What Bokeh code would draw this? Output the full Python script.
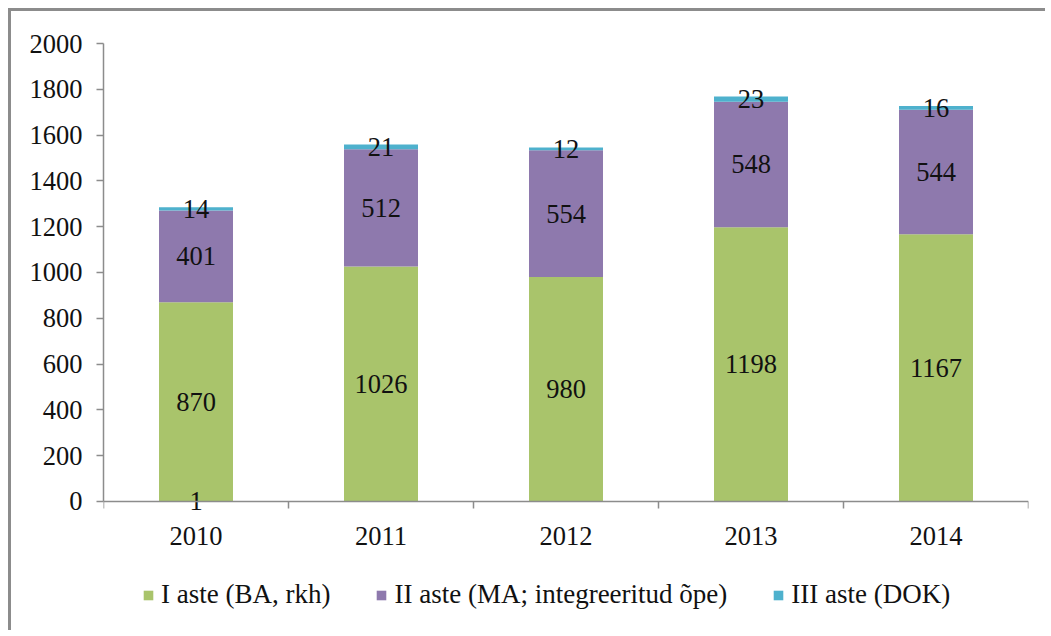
from bokeh.plotting import figure
from bokeh.models import ColumnDataSource, FixedTicker, Range1d, Legend, LegendItem
from bokeh.core.properties import value
from bokeh.embed import file_html
from bokeh.resources import INLINE

years = ["2010", "2011", "2012", "2013", "2014"]
first = [870, 1026, 980, 1198, 1167]
second = [401, 512, 554, 548, 544]
third = [14, 21, 12, 23, 16]
extra = [1, 0, 0, 0, 0]
y_ticks = [0, 200, 400, 600, 800, 1000, 1200, 1400, 1600, 1800, 2000]
series_names = ["I aste (BA, rkh)", "II aste (MA; integreeritud õpe)", "III aste (DOK)"]
colors = ["#A9C46B", "#8E79AD", "#4EB1CD"]

FONT = "Liberation Serif"
FS = "26.5px"
FS_LEG = "27px"

xs = [i + 0.5 for i in range(len(years))]
b1 = [0] * len(years)
t1 = first[:]
t2 = [a + b for a, b in zip(t1, second)]
t3 = [a + b for a, b in zip(t2, third)]

# frame extends below zero so that the x-axis labels and legend live inside it
p = figure(width=1037, height=622, output_backend="svg", toolbar_location=None,
           x_range=Range1d(0, len(years)), y_range=Range1d(-541.5, 2000),
           min_border_left=92, min_border_right=20, min_border_top=32, min_border_bottom=8)
p.styles = {"margin-left": "8px", "margin-top": "8px",
            "border-left": "3px solid #8c8c8c", "border-top": "3px solid #8c8c8c"}
p.outline_line_color = None
p.grid.visible = False
p.background_fill_color = "white"
p.border_fill_color = "white"

r1 = p.vbar(x=xs, bottom=b1, top=t1, width=0.4, fill_color=colors[0], line_color=None)
r2 = p.vbar(x=xs, bottom=t1, top=t2, width=0.4, fill_color=colors[1], line_color=None)
r3 = p.vbar(x=xs, bottom=t2, top=t3, width=0.4, fill_color=colors[2], line_color=None)

lx, ly, lt = [], [], []
for i in range(len(years)):
    lx += [xs[i], xs[i], xs[i]]
    ly += [t1[i] / 2, (t1[i] + t2[i]) / 2, (t2[i] + t3[i]) / 2]
    lt += [str(first[i]), str(second[i]), str(third[i])]
    if extra[i]:
        lx.append(xs[i]); ly.append(extra[i] / 2); lt.append(str(extra[i]))
src = ColumnDataSource(dict(x=lx, y=ly, t=lt))
p.text(x="x", y="y", text="t", source=src, text_align="center", text_baseline="middle",
       text_font=value(FONT), text_font_size=FS, text_color="#111111")

# axes
p.xaxis.fixed_location = 0
p.xaxis.ticker = FixedTicker(ticks=xs, minor_ticks=list(range(len(years) + 1)))
p.xaxis.major_label_overrides = {x: y for x, y in zip(xs, years)}
p.xaxis.major_tick_out = 0
p.xaxis.major_tick_in = 0
p.xaxis.minor_tick_out = 7
p.xaxis.minor_tick_in = 0
p.yaxis.ticker = FixedTicker(ticks=y_ticks, minor_ticks=[])
p.yaxis.bounds = (0, 2000)
p.yaxis.major_tick_out = 7
p.yaxis.major_tick_in = 0
for ax in (p.xaxis, p.yaxis):
    ax.axis_line_color = "#8c8c8c"
    ax.axis_line_width = 1.5
    ax.major_tick_line_color = "#8c8c8c"
    ax.major_tick_line_width = 1.5
    ax.minor_tick_line_color = "#8c8c8c"
    ax.minor_tick_line_width = 1.5
    ax.major_label_text_font = FONT
    ax.major_label_text_font_size = FS
    ax.major_label_text_color = "#111111"
p.xaxis.major_label_standoff = 19
p.yaxis.major_label_standoff = 14

legend = Legend(items=[LegendItem(label=series_names[0], renderers=[r1]),
                       LegendItem(label=series_names[1], renderers=[r2]),
                       LegendItem(label=series_names[2], renderers=[r3])],
                orientation="horizontal", location=(39, 15),
                glyph_width=12, glyph_height=12, label_standoff=7, spacing=45,
                padding=0, margin=0, border_line_color=None, background_fill_alpha=0,
                label_text_font=FONT, label_text_font_size=FS_LEG, label_text_color="#111111")
p.add_layout(legend, "center")

open("out.html", "w").write(file_html(p, INLINE))
